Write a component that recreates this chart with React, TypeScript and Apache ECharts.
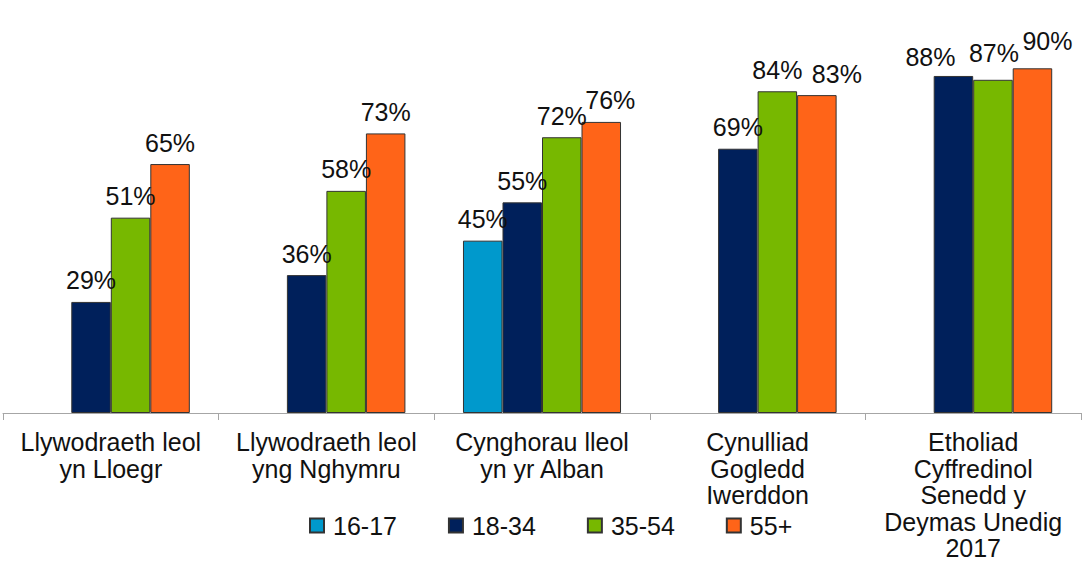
import React, { useEffect, useRef } from "react";
import * as echarts from "echarts";

const categories = [
  "Llywodraeth leol\nyn Lloegr",
  "Llywodraeth leol\nyng Nghymru",
  "Cynghorau lleol\nyn yr Alban",
  "Cynulliad\nGogledd\nIwerddon",
  "Etholiad\nCyffredinol\nSenedd y\nDeymas Unedig\n2017",
];

const seriesNames = ["16-17", "18-34", "35-54", "55+"];
const age1617 = [null, null, 45, null, null];
const age1834 = [29, 36, 55, 69, 88];
const age3554 = [51, 58, 72, 84, 87];
const age55plus = [65, 73, 76, 83, 90];
const colors = ["#0099cc", "#00205b", "#77b800", "#ff6418"];

// label nudges (series index, category index) -> [dx, dy], as placed in the original
const labelNudges: Record<string, [number, number]> = {
  "3-2": [9, 0],
  "3-3": [20, 0],
  "1-4": [-23, 3],
  "2-4": [1, -5],
  "3-4": [15, -6],
};

const FONT = "'Liberation Sans', Arial, sans-serif";

export default function App() {
  const ref = useRef<HTMLDivElement>(null);

  useEffect(() => {
    if (!ref.current) return;
    const chart = echarts.init(ref.current, null, { renderer: "svg" });
    const values = [age1617, age1834, age3554, age55plus];
    chart.setOption({
      animation: false,
      backgroundColor: "#ffffff",
      grid: { left: 3, right: 8, top: 30, bottom: 150 },
      legend: {
        data: seriesNames,
        left: 309,
        top: 513,
        padding: 0,
        itemWidth: 14,
        itemHeight: 14,
        itemGap: 51,
        icon: "rect",
        textStyle: {
          fontFamily: FONT,
          fontSize: 25,
          color: "#111111",
          padding: [0, 0, 0, 4],
        },
      },
      xAxis: {
        type: "category",
        data: categories,
        axisLine: { show: true, lineStyle: { color: "#a6a6a6", width: 1 } },
        axisTick: { show: true, length: 7, lineStyle: { color: "#a6a6a6" } },
        axisLabel: {
          interval: 0,
          margin: 16,
          fontFamily: FONT,
          fontSize: 25,
          lineHeight: 26.5,
          color: "#111111",
        },
      },
      yAxis: {
        type: "value",
        min: 0,
        max: 100,
        show: false,
        splitLine: { show: false },
      },
      series: seriesNames.map((name, i) => ({
        name,
        type: "bar",
        data: values[i].map((v, j) => {
          const nudge = labelNudges[`${i}-${j}`];
          return nudge ? { value: v, label: { offset: nudge } } : v;
        }),
        barGap: "0%",
        barCategoryGap: "26.7%",
        itemStyle: { color: colors[i], borderColor: "#333333", borderWidth: 1 },
        label: {
          show: true,
          position: "top",
          distance: 9,
          formatter: "{c}%",
          fontFamily: FONT,
          fontSize: 25,
          color: "#111111",
        },
      })),
    });
    return () => chart.dispose();
  }, []);

  return (
    <div
      ref={ref}
      style={{ position: "fixed", left: 0, top: 0, width: 1089, height: 563 }}
    />
  );
}
